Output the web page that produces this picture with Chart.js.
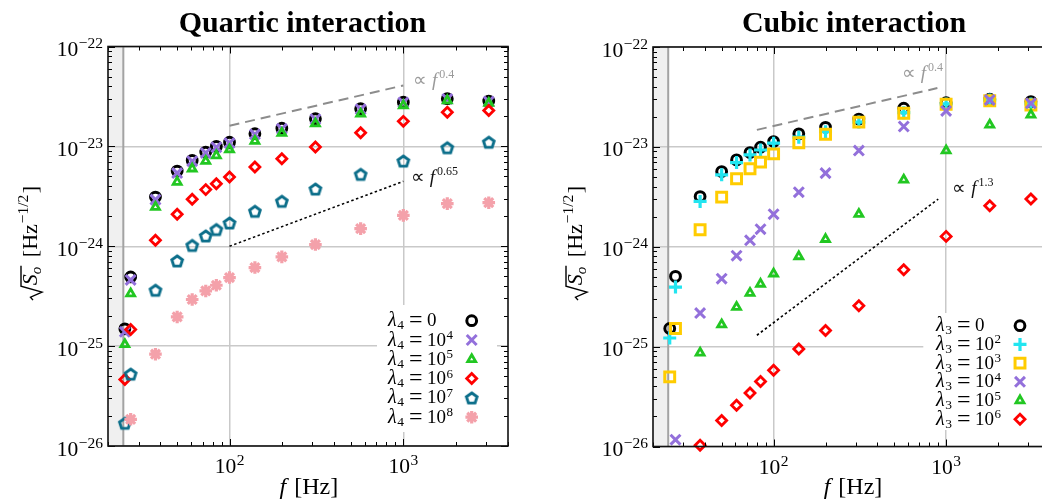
<!DOCTYPE html>
<html><head><meta charset="utf-8">
<script src="https://cdn.jsdelivr.net/npm/chart.js@4.4.0/dist/chart.umd.min.js"></script>
<style>
html,body{margin:0;padding:0;background:#fff;overflow:hidden;width:1042px;height:501px;}
#c1{position:absolute;left:0;top:0;}
#c2{position:absolute;left:520px;top:0;}
</style></head><body>
<canvas id="c1" width="520" height="501"></canvas>
<canvas id="c2" width="540" height="501"></canvas>
<script>
// ---------- DATA ----------
const freqs = [25, 27, 37.5, 50, 61, 73, 84, 100, 140, 200, 312, 568, 1000, 1790, 3100];

// Quartic interaction, lambda_4 = 0, 1e4, 1e5, 1e6, 1e7, 1e8
const quarticL0 = [1.49e-25, 4.93e-25, 3.11e-24, 5.66e-24, 7.24e-24, 8.77e-24, 1.0e-23, 1.10e-23, 1.34e-23, 1.52e-23, 1.89e-23, 2.38e-23, 2.77e-23, 3.0e-23, 2.84e-23];
const quarticL4 = [1.39e-25, 4.6e-25, 2.93e-24, 5.4e-24, 7.1e-24, 8.6e-24, 9.8e-24, 1.08e-23, 1.32e-23, 1.5e-23, 1.87e-23, 2.35e-23, 2.75e-23, 2.98e-23, 2.82e-23];
const quarticL5 = [1.04e-25, 3.36e-25, 2.47e-24, 4.4e-24, 5.98e-24, 7.13e-24, 8.1e-24, 9.27e-24, 1.13e-23, 1.36e-23, 1.69e-23, 2.12e-23, 2.57e-23, 2.88e-23, 2.71e-23];
const quarticL6 = [4.64e-26, 1.47e-25, 1.15e-24, 2.09e-24, 2.95e-24, 3.69e-24, 4.23e-24, 4.93e-24, 6.21e-24, 7.53e-24, 9.85e-24, 1.37e-23, 1.78e-23, 2.2e-23, 2.29e-23];
const quarticL7 = [1.69e-26, 5.25e-26, 3.63e-25, 7.13e-25, 1.02e-24, 1.27e-24, 1.47e-24, 1.71e-24, 2.24e-24, 2.82e-24, 3.74e-24, 5.25e-24, 7.13e-24, 9.7e-24, 1.10e-23];
const quarticL8 = [null, 1.85e-26, 8.3e-26, 1.96e-25, 2.93e-25, 3.57e-25, 4.07e-25, 4.86e-25, 6.12e-25, 7.82e-25, 1.04e-24, 1.5e-24, 2.04e-24, 2.67e-24, 2.73e-24];

// Cubic interaction, lambda_3 = 0, 1e2, 1e3, 1e4, 1e5, 1e6
const cubicL0 = [1.52e-25, 5.05e-25, 3.18e-24, 5.66e-24, 7.41e-24, 8.77e-24, 9.93e-24, 1.13e-23, 1.35e-23, 1.57e-23, 1.9e-23, 2.44e-23, 2.77e-23, 3.0e-23, 2.84e-23];
const cubicL2 = [1.22e-25, 3.95e-25, 2.84e-24, 5.25e-24, 6.97e-24, 8.3e-24, 9.3e-24, 1.09e-23, 1.25e-23, 1.42e-23, 1.77e-23, 2.2e-23, 2.69e-23, 2.95e-23, 2.69e-23];
const cubicL3 = [4.98e-26, 1.52e-25, 1.48e-24, 3.14e-24, 4.79e-24, 6.03e-24, 7.03e-24, 8.51e-24, 1.1e-23, 1.34e-23, 1.77e-23, 2.17e-23, 2.67e-23, 2.9e-23, 2.63e-23];
const cubicL4 = [null, 1.17e-26, 2.17e-25, 4.79e-25, 8.13e-25, 1.16e-24, 1.5e-24, 2.12e-24, 3.52e-24, 5.46e-24, 9.18e-24, 1.6e-23, 2.29e-23, 2.95e-23, 2.73e-23];
const cubicL5 = [null, null, 8.65e-26, 1.66e-25, 2.49e-25, 3.44e-25, 4.24e-25, 5.37e-25, 8.0e-25, 1.19e-24, 2.12e-24, 4.68e-24, 9.18e-24, 1.66e-23, 2.09e-23];
const cubicL6 = [null, null, 1.03e-26, 1.82e-26, 2.59e-26, 3.44e-26, 4.47e-26, 5.8e-26, 9.48e-26, 1.45e-25, 2.57e-25, 5.89e-25, 1.27e-24, 2.57e-24, 3.0e-24];

// legend exponents (null means "0")
const quarticLambdaExps = [null, '4', '5', '6', '7', '8'];
const cubicLambdaExps = [null, '2', '3', '4', '5', '6'];

// power-law guide lines  (f, value)
const quarticGuide04X = [100, 1000], quarticGuide04Y = [1.61e-23, 4.07e-23];
const quarticGuide065X = [100, 1000], quarticGuide065Y = [1.0e-24, 4.47e-24];
const cubicGuide04X = [80, 890], cubicGuide04Y = [1.48e-23, 3.88e-23];
const cubicGuide13X = [80, 900], cubicGuide13Y = [1.3e-25, 3.0e-24];

// axis ticks
const xTickValues = [100, 1000];
const yTickValues = [1e-26, 1e-25, 1e-24, 1e-23, 1e-22];
const xRange = [20, 4000];
const yRange = [1e-26, 1e-22];
const shadedBelowHz = 24.5;

// ---------- STYLES ----------
const SERIF = '"Liberation Serif","Times New Roman",serif';
function fnt(size, style) { return (style ? style + ' ' : '') + size + 'px ' + SERIF; }

function makePentagon(color) {
  const c = document.createElement('canvas'); c.width = 20; c.height = 20;
  const g = c.getContext('2d'); g.strokeStyle = color; g.lineWidth = 2.9;
  g.beginPath();
  for (let k = 0; k < 5; k++) {
    const a = -Math.PI / 2 + k * 2 * Math.PI / 5;
    const px = 10 + 5.6 * Math.cos(a), py = 10.6 + 5.6 * Math.sin(a);
    k ? g.lineTo(px, py) : g.moveTo(px, py);
  }
  g.closePath(); g.stroke();
  return c;
}
const PENT = makePentagon('#0b6e8a');

const quarticStyles = [
  {ps: 'circle', c: '#000000', r: 4.9, w: 3},
  {ps: 'crossRot', c: '#9370db', r: 7, w: 3},
  {ps: 'triangle', c: '#22c722', r: 4.6, w: 2.8},
  {ps: 'rectRot', c: '#ff0000', r: 5, w: 2.8},
  {ps: PENT, c: '#0b6e8a', r: 6, w: 2.9},
  {ps: 'star', c: '#f4a1aa', r: 6.3, w: 3.2}
];
const cubicStyles = [
  {ps: 'circle', c: '#000000', r: 4.9, w: 3},
  {ps: 'cross', c: '#22e5f0', r: 6.5, w: 3.2},
  {ps: 'rect', c: '#ffcc00', r: 7, w: 3},
  {ps: 'crossRot', c: '#9370db', r: 7, w: 3},
  {ps: 'triangle', c: '#22c722', r: 4.6, w: 2.8},
  {ps: 'rectRot', c: '#ff0000', r: 5, w: 2.8}
];

function seriesDataset(vals, st, idx, sub, exp) {
  const pts = [];
  freqs.forEach((f, i) => { if (vals[i] != null) pts.push({x: f, y: vals[i]}); });
  return {
    type: 'scatter',
    label: 'λ' + sub + ' = ' + (exp ? '10^' + exp : '0'),
    data: pts,
    pointStyle: st.ps, pointRadius: st.r, pointHoverRadius: st.r,
    pointBorderWidth: st.w, pointHoverBorderWidth: st.w,
    pointBorderColor: st.c, borderColor: st.c,
    pointBackgroundColor: 'rgba(0,0,0,0)', backgroundColor: 'rgba(0,0,0,0)',
    order: 20 - idx, clip: false
  };
}
function guideDataset(xs, ys, color, dash, width) {
  return {
    type: 'line', data: xs.map((x, i) => ({x: x, y: ys[i]})),
    showLine: true, borderColor: color, borderDash: dash, borderWidth: width,
    pointRadius: 0, fill: false, order: 0, clip: false
  };
}

// ---------- helpers to draw formatted text ----------
function drawRuns(ctx, runs, x, y, align, color) {
  let total = 0;
  runs.forEach(r => { ctx.font = fnt(r.size, r.style); r._w = (r.pre || 0) + ctx.measureText(r.t).width + (r.gap || 0); total += r._w; });
  let cx = align === 'right' ? x - total : align === 'center' ? x - total / 2 : x;
  ctx.textAlign = 'left'; ctx.textBaseline = 'alphabetic';
  ctx.fillStyle = color || '#000';
  runs.forEach(r => { ctx.font = fnt(r.size, r.style); ctx.fillText(r.t, cx + (r.pre || 0), y + (r.dy || 0)); cx += r._w; });
  return total;
}
function powRuns(v) {
  const e = Math.round(Math.log10(v));
  return [{t: '10', size: 21.5}, {t: (e < 0 ? '−' : '') + Math.abs(e), size: 15.5, dy: -8, pre: 0.5}];
}

const PANEL = {
  c1: {
    title: 'Quartic interaction', titleX: 302.5, sub: '4', exps: quarticLambdaExps, styles: quarticStyles,
    legend: {textX: 388, markX: 471.7, y0: 320.7, dy: 19.3, box: [377, 305, 497, 432]},
    notes: [{x: 413, y: 86, exp: '0.4', color: '#9a9a9a'}, {x: 410.7, y: 183, exp: '0.65', color: '#111'}],
    yTitle: [32, 243], xTitleX: 308.8
  },
  c2: {
    title: 'Cubic interaction', titleX: 334, sub: '3', exps: cubicLambdaExps, styles: cubicStyles,
    legend: {textX: 416, markX: 500, y0: 325.7, dy: 18.7, box: [403.3, 313, 522, 430]},
    notes: [{x: 381.7, y: 79, exp: '0.4', color: '#9a9a9a'}, {x: 432.3, y: 194, exp: '1.3', color: '#111'}],
    yTitle: [57, 243], xTitleX: 333
  }
};

function drawYTitle(ctx, cx, cy) {
  ctx.save(); ctx.translate(cx, cy); ctx.rotate(-Math.PI / 2);
  const parts = [
    {t: 'S', size: 22, style: 'italic'},
    {t: 'o', size: 15, style: 'italic', dy: 4},
    {t: ' [Hz', size: 22, pre: 4},
    {t: '−1/2', size: 15.5, dy: -9, pre: 1},
    {t: ']', size: 22, pre: 1.5}
  ];
  let tw = 0, wS = 0;
  parts.forEach((p, i) => { ctx.font = fnt(p.size, p.style); p._w = (p.pre || 0) + ctx.measureText(p.t).width; tw += p._w; if (i < 2) wS += p._w; });
  const radW = 15;
  const x0 = -(tw + radW) / 2;
  ctx.strokeStyle = '#000'; ctx.lineWidth = 1.4; ctx.lineJoin = 'miter';
  ctx.beginPath();
  ctx.moveTo(x0, 1); ctx.lineTo(x0 + 3, -1.5); ctx.lineTo(x0 + 8, 10); ctx.lineTo(x0 + 14, -11);
  ctx.lineTo(x0 + radW + wS + 1, -11);
  ctx.stroke();
  let x = x0 + radW;
  ctx.fillStyle = '#000'; ctx.textAlign = 'left'; ctx.textBaseline = 'alphabetic';
  parts.forEach(p => { ctx.font = fnt(p.size, p.style); ctx.fillText(p.t, x + (p.pre || 0), 5 + (p.dy || 0)); x += p._w; });
  ctx.restore();
}

const decor = {
  id: 'decor',
  beforeDraw(chart) {
    const {ctx, chartArea: a, scales: {x}} = chart;
    ctx.save();
    ctx.fillStyle = '#f0f0f0';
    const bx = x.getPixelForValue(shadedBelowHz);
    ctx.fillRect(a.left, a.top, bx - a.left, a.bottom - a.top);
    ctx.restore();
  },
  beforeDatasetsDraw(chart) {
    const {ctx, chartArea: a, scales: {x}} = chart;
    const bx = x.getPixelForValue(shadedBelowHz);
    ctx.save(); ctx.strokeStyle = '#a3a3a3'; ctx.lineWidth = 2;
    ctx.beginPath(); ctx.moveTo(bx, a.top); ctx.lineTo(bx, a.bottom); ctx.stroke();
    ctx.restore();
  },
  afterDatasetsDraw(chart) {
    const cfg = PANEL[chart.canvas.id];
    const ctx = chart.ctx;
    ctx.save();
    const L = cfg.legend, b = L.box;
    ctx.fillStyle = '#fff'; ctx.fillRect(b[0], b[1], b[2] - b[0], b[3] - b[1]);
    cfg.exps.forEach((e, i) => {
      const yc = L.y0 + i * L.dy;
      const runs = [
        {t: 'λ', size: 20, style: 'italic'},
        {t: cfg.sub, size: 13.5, dy: 3, pre: 0.5},
        {t: '=', size: 24, pre: 5, gap: 4.5, dy: 1},
      ];
      if (e) { runs.push({t: '10', size: 19}); runs.push({t: e, size: 13, dy: -6.5, pre: 0.5}); }
      else runs.push({t: '0', size: 19});
      drawRuns(ctx, runs, L.textX, yc + 5.5, 'left', '#000');
      const st = cfg.styles[i];
      ctx.strokeStyle = st.c; ctx.fillStyle = 'rgba(0,0,0,0)'; ctx.lineWidth = st.w;
      if (Chart.helpers && Chart.helpers.drawPoint) {
        Chart.helpers.drawPoint(ctx, {pointStyle: st.ps, radius: st.r, borderWidth: st.w, rotation: 0}, L.markX, yc);
      }
    });
    cfg.notes.forEach(n => {
      drawRuns(ctx, [
        {t: '∝', size: 19},
        {t: 'f', size: 19, style: 'italic', pre: 5},
        {t: n.exp, size: 12, dy: -8.5, pre: 2}
      ], n.x, n.y, 'left', n.color);
    });
    ctx.restore();
  },
  afterDraw(chart) {
    const cfg = PANEL[chart.canvas.id];
    const {ctx, chartArea: a, scales: {x, y}} = chart;
    ctx.save();
    // minor / major ticks on all four sides
    ctx.strokeStyle = '#000'; ctx.lineWidth = 1;
    ctx.beginPath();
    for (let e = 1; e <= 3; e++) for (let k = 1; k <= 9; k++) {
      const v = k * Math.pow(10, e);
      if (v < x.min * 0.999 || v > x.max * 1.001) continue;
      const px = Math.round(x.getPixelForValue(v)) + 0.5, len = k === 1 ? 7 : 4;
      ctx.moveTo(px, a.bottom); ctx.lineTo(px, a.bottom - len);
      ctx.moveTo(px, a.top); ctx.lineTo(px, a.top + len);
    }
    for (let e = -26; e <= -22; e++) for (let k = 1; k <= 9; k++) {
      const v = k * Math.pow(10, e);
      if (v < y.min * 0.999 || v > y.max * 1.001) continue;
      const py = Math.round(y.getPixelForValue(v)) + 0.5, len = k === 1 ? 7 : 4;
      ctx.moveTo(a.left, py); ctx.lineTo(a.left + len, py);
      ctx.moveTo(a.right, py); ctx.lineTo(a.right - len, py);
    }
    ctx.stroke();
    ctx.lineWidth = 1.6; ctx.strokeStyle = '#111';
    ctx.strokeRect(a.left, a.top, a.right - a.left, a.bottom - a.top);
    // tick labels
    y.ticks.forEach(t => drawRuns(ctx, powRuns(t.value), a.left - 5, y.getPixelForValue(t.value) + 9.5, 'right', '#000'));
    x.ticks.forEach(t => drawRuns(ctx, powRuns(t.value), x.getPixelForValue(t.value), a.bottom + 27, 'center', '#000'));
    // axis titles
    drawRuns(ctx, [{t: 'f', size: 24, style: 'italic'}, {t: '[Hz]', size: 24, pre: 8}], cfg.xTitleX, 494, 'center', '#000');
    drawYTitle(ctx, cfg.yTitle[0], cfg.yTitle[1]);
    // panel title
    ctx.font = 'bold 30px ' + SERIF; ctx.fillStyle = '#000'; ctx.textAlign = 'center'; ctx.textBaseline = 'alphabetic';
    ctx.fillText(cfg.title, cfg.titleX, 32);
    ctx.restore();
  }
};

function makeOptions(pad) {
  return {
    responsive: false, animation: false, events: [],
    layout: {padding: pad},
    plugins: {legend: {display: false}, tooltip: {enabled: false}, title: {display: false}},
    scales: {
      x: {
        type: 'logarithmic', min: xRange[0], max: xRange[1],
        afterBuildTicks: s => { s.ticks = xTickValues.map(v => ({value: v})); },
        afterFit: s => { s.height = 0; },
        ticks: {display: false},
        grid: {color: '#c9c9c9', lineWidth: 1.5, drawTicks: false},
        border: {display: false}
      },
      y: {
        type: 'logarithmic', min: yRange[0], max: yRange[1],
        afterBuildTicks: s => { s.ticks = yTickValues.map(v => ({value: v})); },
        afterFit: s => { s.width = 0; },
        ticks: {display: false},
        grid: {color: '#c9c9c9', lineWidth: 1.5, drawTicks: false},
        border: {display: false}
      }
    }
  };
}

const quarticSeries = [quarticL0, quarticL4, quarticL5, quarticL6, quarticL7, quarticL8];
const cubicSeries = [cubicL0, cubicL2, cubicL3, cubicL4, cubicL5, cubicL6];

new Chart(document.getElementById('c1'), {
  type: 'scatter',
  data: {datasets: quarticSeries.map((v, i) => seriesDataset(v, quarticStyles[i], i, '4', quarticLambdaExps[i])).concat([
    guideDataset(quarticGuide04X, quarticGuide04Y, '#8c8c8c', [10, 6], 2),
    guideDataset(quarticGuide065X, quarticGuide065Y, '#000', [2.5, 2.5], 1.6)
  ])},
  options: makeOptions({left: 108, right: 12, top: 46.5, bottom: 55}),
  plugins: [decor]
});
new Chart(document.getElementById('c2'), {
  type: 'scatter',
  data: {datasets: cubicSeries.map((v, i) => seriesDataset(v, cubicStyles[i], i, '3', cubicLambdaExps[i])).concat([
    guideDataset(cubicGuide04X, cubicGuide04Y, '#8c8c8c', [10, 6], 2),
    guideDataset(cubicGuide13X, cubicGuide13Y, '#000', [2.5, 2.5], 1.6)
  ])},
  options: makeOptions({left: 133, right: 8, top: 47, bottom: 54.5}),
  plugins: [decor]
});
</script>
</body></html>
